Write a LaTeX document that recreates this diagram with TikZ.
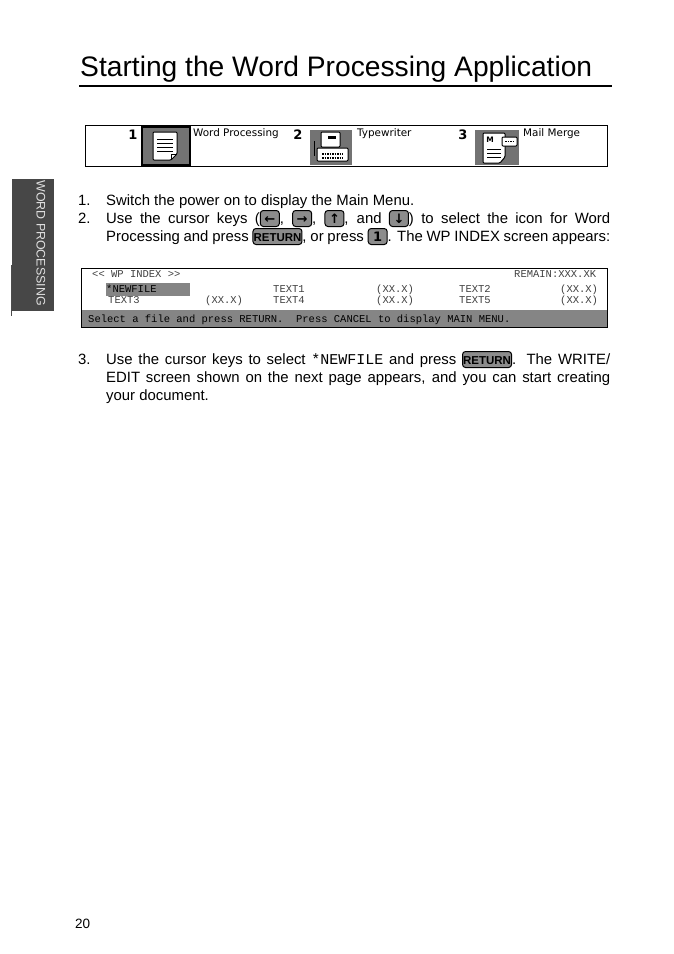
\documentclass[tikz,border=0pt]{standalone}
\usepackage{fontspec}
\setmainfont{Liberation Sans}
\newfontfamily\screenfont{Liberation Mono}
\newfontfamily\iconfont{DejaVu Sans}
\usetikzlibrary{positioning}
\newcommand{\keycap}[1]{\tikz[baseline=(k.base)]\node[keycap] (k) {\rule[-2.5pt]{0pt}{14pt}#1};}
\newcommand{\wordkey}{\keycap{\makebox[47pt]{\fontsize{11.5}{11.5}\selectfont\bfseries RETURN}}}
\newcommand{\arrowkey}[1]{\keycap{\makebox[17pt]{\iconfont\fontsize{13}{13}\selectfont\bfseries #1}}}
\newcommand{\bodyline}[1]{\makebox[504pt][s]{#1}}

\begin{document}
\begin{tikzpicture}[x=1pt,y=-1pt]
  \tikzset{
    keycap/.style={draw=black, line width=1pt, fill=black!45, rounded corners=3pt, inner xsep=1pt, inner ysep=1pt},
    title/.style={anchor=base west, inner sep=0, font=\fontsize{28.2}{28.2}\selectfont},
    body/.style={anchor=base west, inner sep=0, font=\fontsize{14.9}{14.9}\selectfont},
    num/.style={anchor=base, inner sep=0, font=\iconfont\fontsize{13}{13}\selectfont\bfseries},
    menu/.style={anchor=base west, inner sep=0, font=\iconfont\fontsize{10.4}{10.4}\selectfont},
    screen/.style={anchor=base west, inner sep=0, text=black!75, font=\screenfont\fontsize{10.5}{10.5}\selectfont},
    iconbg/.style={fill=black!55, draw=none},
    sheet/.style={draw=black, fill=white, line width=1pt, rounded corners=1pt}
  }
  \tikzset{
    docicon/.pic={
      \path [iconbg] (0,0) rectangle (48,38);
      \draw [sheet] (11,5)--(35,5)--(35,27)--(29,33)--(11,33)--cycle;
      \foreach \y in {12,16,20,24} \draw [line width=1pt] (15,\y)--(31,\y);
      \draw [line width=1pt] (29,33)--(29,27)--(35,27);
    },
    typeicon/.pic={
      \path [iconbg] (0,0) rectangle (42,35);
      \draw [sheet] (11,2)--(30,2)--(30,17)--(11,17)--cycle;
      \draw [line width=1pt] (4,11)--(4,26);
      \draw [sheet] (7,18)--(38,18)--(38,31)--(7,31)--cycle;
      \fill (18,6) rectangle (26,9);
      \draw [line width=1.5pt,densely dotted] (12,24)--(33,24);
      \draw [line width=1.5pt,densely dotted] (12,28)--(33,28);
    },
    mergeicon/.pic={
      \path [iconbg] (0,0) rectangle (44,35);
      \draw [sheet] (8,3)--(30,3)--(30,27)--(25,33)--(8,33)--cycle;
      \draw [sheet] (27,7)--(42,7)--(42,16)--(27,16)--cycle;
      \node [inner sep=0, font=\iconfont\fontsize{7.5}{7.5}\selectfont\bfseries] (mergeM) at (15,10) {M};
      \foreach \y in {19,23,27} \draw [line width=1pt] (12,\y)--(26,\y);
      \draw [line width=1.5pt,densely dotted] (30,11.5)--(39,11.5);
    }
  }
  \useasboundingbox (0,0) rectangle (674,954);
  \fill [white] (0,0) rectangle (674,954);

  % heading
  \node [title] (head) at (80,76) {Starting the Word Processing Application};
  \draw [line width=1.1pt] (79,86)--(612,86);

  % side tab
  \fill [black!72] (12,179) rectangle (54,311);
  \draw [line width=.6pt,black!70] (11,265)--(11,316);
  \node [rotate=-90, inner sep=0, text=black!12, font=\fontsize{12.4}{12.4}\selectfont] (tab) at (41,243) {WORD PROCESSING};

  % icon strip
  \draw [line width=1pt] (85,125) rectangle (607,166);
  \path (142,127) pic {docicon};
  \draw [line width=2pt] (142,127) rectangle (190,165);
  \path (310,130) pic {typeicon};
  \path (475,130) pic {mergeicon};
  \node [num] (one) at (133,139) {1};
  \node [num] (two) at (298,139) {2};
  \node [num] (three) at (463,139) {3};
  \node [menu] (wp) at (193,136) {Word Processing};
  \node [menu] (tw) at (357,136) {Typewriter};
  \node [menu] (mm) at (523,136) {Mail Merge};

  % steps
  \node [body] (n1) at (78,205) {1.};
  \node [body] (s1) at (106,205) {Switch the power on to display the Main Menu.};
  \node [body] (n2) at (78,223) {2.};
  \node [body] (s2) at (106,223) {\bodyline{Use the cursor keys (\arrowkey{←}, \arrowkey{→}, \arrowkey{↑}, and \arrowkey{↓}) to select the icon for Word}};
  \node [body] (s2b) at (106,241) {\bodyline{Processing and press \wordkey, or press \arrowkey{1}. The WP INDEX screen appears:}};

  % screen
  \fill [black!48] (106,283) rectangle (190,296);
  \fill [black!48] (81,310) rectangle (607,327);
  \draw [line width=1pt] (81,268) rectangle (607,327);
  \node [screen] (hd) at (92,277) {<< WP INDEX >>};
  \node [screen] (rem) at (514,277) {REMAIN:XXX.XK};
  \node [screen,text=black] (nf) at (106,292) {*NEWFILE};
  \node [screen] (t1) at (273,292) {TEXT1};
  \node [screen] (x1) at (376,292) {(XX.X)};
  \node [screen] (t2) at (459,292) {TEXT2};
  \node [screen] (x2) at (560,292) {(XX.X)};
  \node [screen] (t3) at (108,303) {TEXT3};
  \node [screen] (x3) at (205,303) {(XX.X)};
  \node [screen] (t4) at (273,303) {TEXT4};
  \node [screen] (x4) at (376,303) {(XX.X)};
  \node [screen] (t5) at (459,303) {TEXT5};
  \node [screen] (x5) at (560,303) {(XX.X)};
  \node [screen,text=black] (st) at (88,322) {Select a file and press RETURN.~ Press CANCEL to display MAIN MENU.};

  \node [body] (n3) at (78,364) {3.};
  \node [body] (s3) at (106,364) {\bodyline{Use the cursor keys to select {\screenfont\fontsize{15}{15}\selectfont *NEWFILE} and press \wordkey. The WRITE/}};
  \node [body] (s3b) at (106,382) {\bodyline{EDIT screen shown on the next page appears, and you can start creating}};
  \node [body] (s3c) at (106,400) {your document.};

  \node [anchor=base west, inner sep=0, font=\fontsize{13.5}{13.5}\selectfont] (page) at (75,928) {20};
\end{tikzpicture}
\end{document}
